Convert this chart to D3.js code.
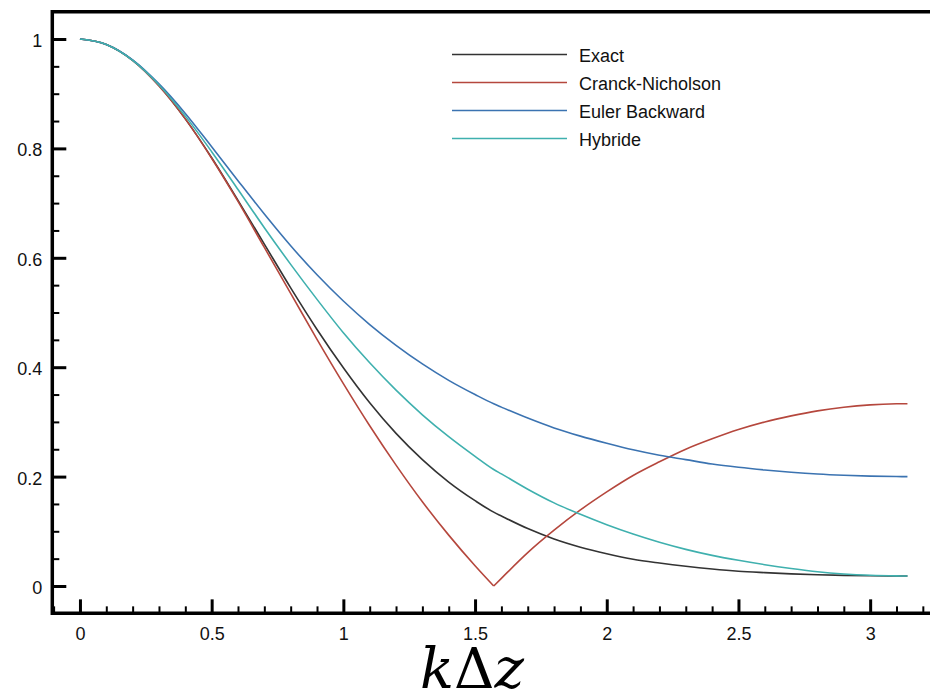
<!DOCTYPE html>
<html>
<head>
<meta charset="utf-8">
<script src="https://d3js.org/d3.v7.min.js"></script>
<style>
  body { margin: 0; background: #fff; }
  text { font-family: "Liberation Sans", Arial, Helvetica, sans-serif; }
</style>
</head>
<body>
<div id="chart"></div>
<script>
// k*dz sample positions (pi/2 included for the Crank-Nicholson kink)
var kdz = [0, 0.1, 0.2, 0.3, 0.4, 0.5, 0.6, 0.7, 0.8, 0.9, 1.0, 1.1, 1.2, 1.3, 1.4, 1.5,
  1.5708, 1.6, 1.7, 1.8, 1.9, 2.0, 2.1, 2.2, 2.3, 2.4, 2.5, 2.6, 2.7, 2.8, 2.9, 3.0, 3.1, 3.1416];

var exact = [1, 0.990, 0.961, 0.915, 0.854, 0.783, 0.705, 0.625, 0.545, 0.469, 0.399, 0.335, 0.279, 0.231, 0.190, 0.156,
  0.135, 0.128, 0.105, 0.086, 0.071, 0.059, 0.049, 0.042, 0.036, 0.031, 0.027, 0.0244, 0.0222, 0.0206, 0.0194, 0.0187, 0.0184, 0.0183];

var crankNicholson = [1, 0.990, 0.961, 0.914, 0.854, 0.782, 0.703, 0.619, 0.535, 0.451, 0.370, 0.293, 0.221, 0.154, 0.093, 0.037,
  0, 0.014, 0.061, 0.102, 0.139, 0.172, 0.202, 0.227, 0.250, 0.269, 0.286, 0.300, 0.311, 0.3202, 0.3268, 0.3311, 0.3331, 0.3333];

var eulerBackward = [1, 0.990, 0.962, 0.918, 0.864, 0.803, 0.741, 0.680, 0.622, 0.569, 0.521, 0.478, 0.440, 0.406, 0.376, 0.350,
  0.333, 0.327, 0.307, 0.289, 0.274, 0.261, 0.249, 0.239, 0.231, 0.223, 0.217, 0.2121, 0.2080, 0.2047, 0.2024, 0.2008, 0.2001, 0.2000];

var hybride = [1, 0.990, 0.961, 0.916, 0.859, 0.794, 0.725, 0.655, 0.588, 0.524, 0.463, 0.408, 0.358, 0.313, 0.273, 0.237,
  0.213, 0.205, 0.177, 0.152, 0.131, 0.112, 0.095, 0.080, 0.067, 0.056, 0.047, 0.039, 0.032, 0.026, 0.022, 0.0196, 0.0185, 0.0183];

var seriesNames = ["Exact", "Cranck-Nicholson", "Euler Backward", "Hybride"];
var seriesValues = [exact, crankNicholson, eulerBackward, hybride];
var seriesColors = ["#333333", "#b5473d", "#3b73b1", "#3fb0ae"];

var xTicks = [0, 0.5, 1, 1.5, 2, 2.5, 3];
var yTicks = [0, 0.2, 0.4, 0.6, 0.8, 1];

var width = 930, height = 697;

var svg = d3.select("#chart")
  .append("svg")
  .attr("width", width)
  .attr("height", height);

// scales (frame sits a little outside the data range)
var x = d3.scaleLinear().domain([-0.105, 3.3]).range([52.3, 52.3 + 3.405 * 263.4]);
var y = d3.scaleLinear().domain([-0.05, 1.05]).range([613.35, 11.65]);

var frameLeft = x(-0.105), frameRight = x(3.3), frameTop = y(1.05), frameBottom = y(-0.05);

// minor ticks
var xMinor = d3.range(-0.1, 3.25, 0.1).filter(function(v) {
  return Math.abs(v * 2 - Math.round(v * 2)) > 1e-6;
});
var yMinor = d3.range(0.05, 1.0, 0.05).filter(function(v) {
  return Math.abs(v * 5 - Math.round(v * 5)) > 1e-6;
});

svg.append("g")
  .attr("transform", "translate(0," + frameBottom + ")")
  .call(d3.axisBottom(x).tickValues(xMinor).tickSize(-7).tickFormat(""))
  .call(function(g) { g.select(".domain").remove(); })
  .selectAll("line").attr("stroke-width", 2);

svg.append("g")
  .attr("transform", "translate(" + frameLeft + ",0)")
  .call(d3.axisLeft(y).tickValues(yMinor).tickSize(-7).tickFormat(""))
  .call(function(g) { g.select(".domain").remove(); })
  .selectAll("line").attr("stroke-width", 2);

// major ticks + labels
var xAxis = svg.append("g")
  .attr("transform", "translate(0," + frameBottom + ")")
  .call(d3.axisBottom(x).tickValues(xTicks).tickSize(-14).tickPadding(14).tickFormat(d3.format("")));
xAxis.select(".domain").remove();
xAxis.selectAll("line").attr("stroke-width", 3);
xAxis.selectAll("text").attr("font-size", 18).attr("fill", "#111")
  .style("font-family", "'Liberation Sans', Arial, sans-serif");

var yAxis = svg.append("g")
  .attr("transform", "translate(" + frameLeft + ",0)")
  .call(d3.axisLeft(y).tickValues(yTicks).tickSize(-14).tickPadding(10).tickFormat(d3.format("")));
yAxis.select(".domain").remove();
yAxis.selectAll("line").attr("stroke-width", 3);
yAxis.selectAll("text").attr("font-size", 18).attr("fill", "#111").attr("dy", "0.42em")
  .style("font-family", "'Liberation Sans', Arial, sans-serif");

// frame: left, bottom, top
svg.append("path")
  .attr("d", "M" + (frameRight + 10) + "," + frameTop + "H" + frameLeft + "V" + frameBottom + "H" + (frameRight + 10))
  .attr("fill", "none")
  .attr("stroke", "#000")
  .attr("stroke-width", 3.5);

// curves
var line = d3.line()
  .x(function(d) { return x(d[0]); })
  .y(function(d) { return y(d[1]); })
  .curve(d3.curveMonotoneX);

seriesValues.forEach(function(vals, i) {
  var pts = kdz.map(function(k, j) { return [k, vals[j]]; });
  // split at a sharp minimum so the kink stays sharp
  var iMin = d3.minIndex(vals);
  var pieces = (iMin > 0 && iMin < vals.length - 1) ? [pts.slice(0, iMin + 1), pts.slice(iMin)] : [pts];
  pieces.forEach(function(p) {
    svg.append("path")
      .datum(p)
      .attr("d", line)
      .attr("fill", "none")
      .attr("stroke", seriesColors[i])
      .attr("stroke-width", 1.6);
  });
});

// legend
var legend = svg.append("g");
seriesNames.forEach(function(name, i) {
  var ly = 54.5 + i * 28;
  legend.append("line")
    .attr("x1", 452).attr("x2", 567)
    .attr("y1", ly).attr("y2", ly)
    .attr("stroke", seriesColors[i])
    .attr("stroke-width", 1.6);
  legend.append("text")
    .attr("x", 579).attr("y", ly + 7)
    .attr("font-size", 18)
    .attr("fill", "#111")
    .text(name);
});

// x axis title
var title = svg.append("text")
  .attr("x", 472).attr("y", 688)
  .attr("text-anchor", "middle")
  .attr("font-size", 56)
  .style("font-family", "'DejaVu Serif', 'Liberation Serif', serif")
  .attr("fill", "#000");
title.append("tspan").attr("font-style", "italic").text("k");
title.append("tspan").text("\u0394");
title.append("tspan").attr("font-style", "italic").text("z");
</script>
</body>
</html>
